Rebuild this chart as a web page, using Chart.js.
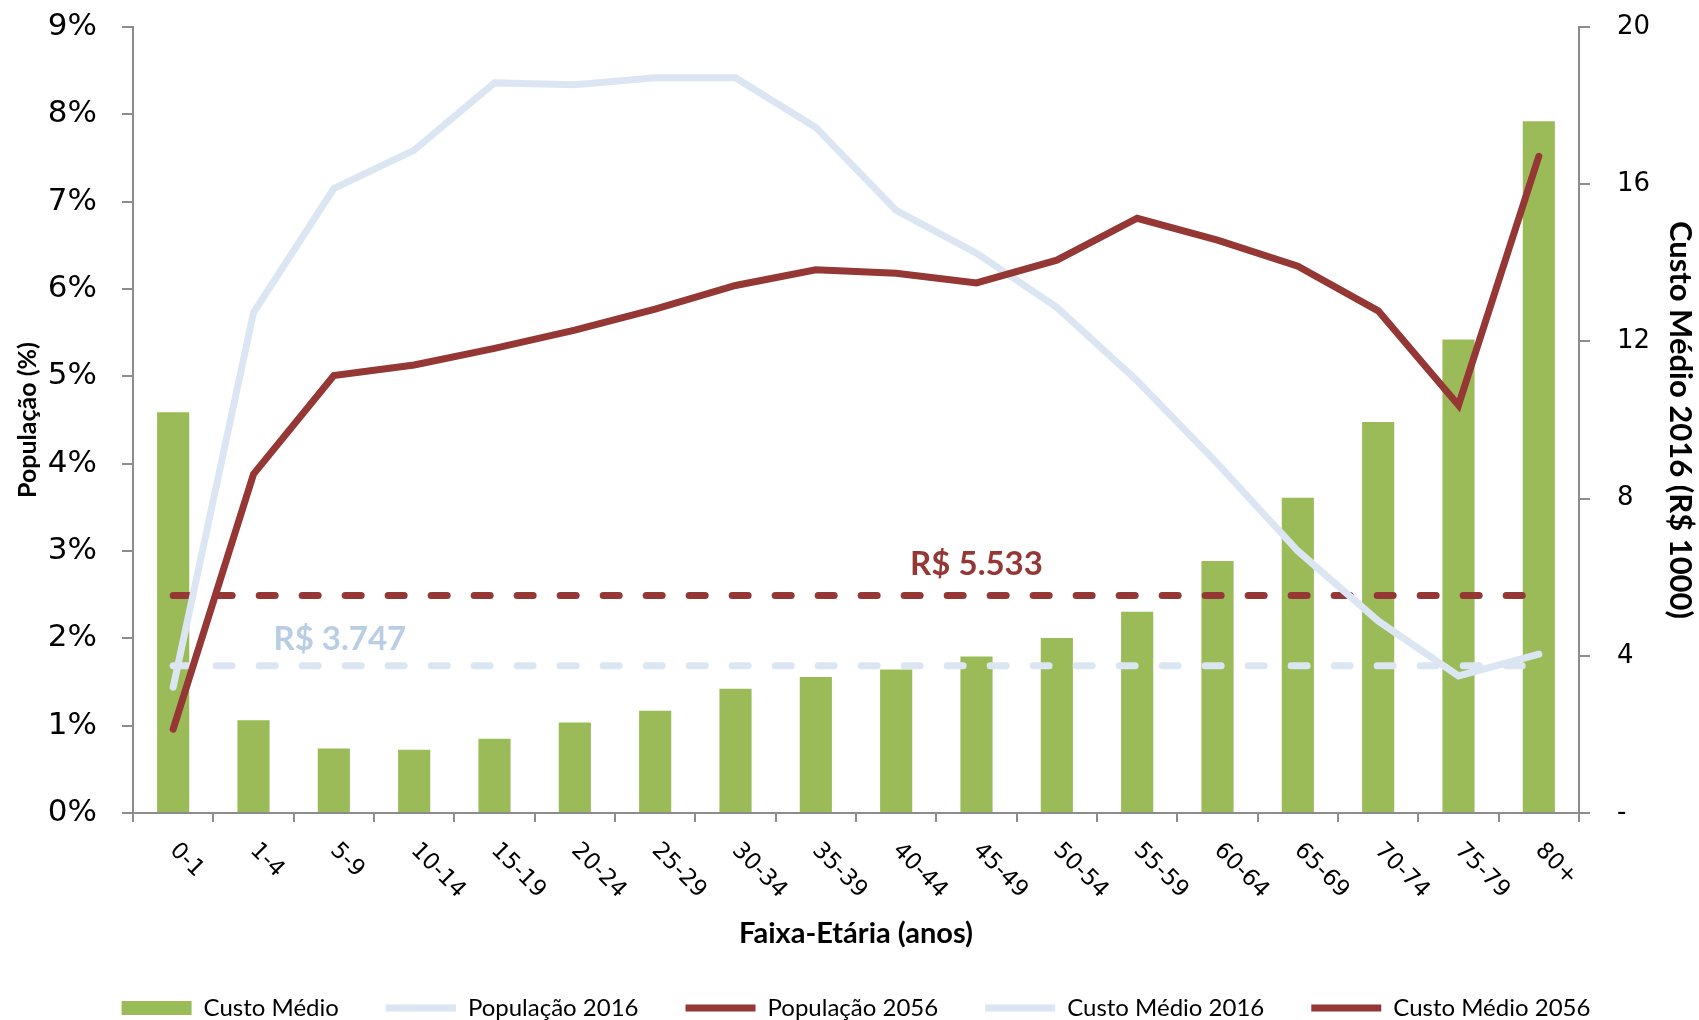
<!DOCTYPE html>
<html lang="pt-BR">
<head>
<meta charset="utf-8">
<script src="https://cdn.jsdelivr.net/npm/chart.js@4.4.1/dist/chart.umd.min.js"></script>
<style>
  body { margin: 0; background: #fff; }
  #grafico { display: block; }
</style>
</head>
<body>
<canvas id="grafico" width="1699" height="1020"></canvas>
<script>
// faixas etarias (eixo x)
var faixas = ['0-1', '1-4', '5-9', '10-14', '15-19', '20-24', '25-29', '30-34', '35-39',
              '40-44', '45-49', '50-54', '55-59', '60-64', '65-69', '70-74', '75-79', '80+'];

// custo medio por faixa, R$ 1000 (eixo da direita)
var custoMedio = [10.2, 2.36, 1.64, 1.61, 1.89, 2.30, 2.60, 3.16, 3.46,
                  3.65, 3.98, 4.45, 5.12, 6.41, 8.02, 9.95, 12.05, 17.6];

// populacao em % (eixo da esquerda)
var pop2016 = [1.44, 5.73, 7.15, 7.59, 8.36, 8.34, 8.42, 8.42, 7.85,
               6.90, 6.41, 5.79, 4.95, 4.00, 3.00, 2.20, 1.57, 1.82];
var pop2056 = [0.96, 3.88, 5.01, 5.13, 5.32, 5.53, 5.77, 6.04, 6.22,
               6.18, 6.07, 6.33, 6.81, 6.56, 6.26, 5.75, 4.67, 7.52];

// custo medio ponderado (linhas tracejadas), R$ 1000
var custo2016 = [3.747, 3.747, 3.747, 3.747, 3.747, 3.747, 3.747, 3.747, 3.747,
                 3.747, 3.747, 3.747, 3.747, 3.747, 3.747, 3.747, 3.747, 3.747];
var custo2056 = [5.533, 5.533, 5.533, 5.533, 5.533, 5.533, 5.533, 5.533, 5.533,
                 5.533, 5.533, 5.533, 5.533, 5.533, 5.533, 5.533, 5.533, 5.533];

var rotulo2016 = 'R$ 3.747';
var rotulo2056 = 'R$ 5.533';

var verde = '#9bbb59', vermelho = '#953735', azulClaro = '#dce6f2';
var cinza = '#8c8c8c';

/* rotulos do eixo x inclinados para baixo (como no Excel) */
var rotulosX = {
  id: 'rotulosX',
  afterDraw: function(chart) {
    var ctx = chart.ctx, x = chart.scales.x;
    faixas.forEach(function(f, i) {
      ctx.save();
      ctx.translate(x.getPixelForValue(i), x.top + 34);
      ctx.rotate(Math.PI / 4);
      ctx.font = '23px "DejaVu Sans"';
      ctx.fillStyle = '#000';
      ctx.textAlign = 'left';
      ctx.textBaseline = 'middle';
      ctx.fillText(f, 0, 0);
      ctx.restore();
    });
  }
};

/* valores das linhas tracejadas */
var rotulosCusto = {
  id: 'rotulosCusto',
  afterDatasetsDraw: function(chart) {
    var ctx = chart.ctx;
    var p56 = chart.getDatasetMeta(4).data[10];
    var p16 = chart.getDatasetMeta(3).data[2];
    ctx.save();
    ctx.font = 'bold 33px Lato';
    ctx.textAlign = 'center';
    ctx.textBaseline = 'middle';
    ctx.fillStyle = vermelho;
    ctx.fillText(rotulo2056, p56.x, p56.y - 31);
    ctx.fillStyle = '#b9cde5';
    ctx.fillText(rotulo2016, p16.x + 6, p16.y - 26);
    ctx.restore();
  }
};

// eixo y com largura fixa e sem a folga extra que o Chart.js poe no topo
function ajustaEixoY(s) {
  s.width = 120;
  s.paddingTop = 0;
  s.paddingBottom = 0;
}

new Chart(document.getElementById('grafico'), {
  data: {
    labels: faixas,
    datasets: [
      { type: 'bar', label: 'Custo Médio', data: custoMedio, yAxisID: 'y1',
        backgroundColor: verde, borderWidth: 0, barPercentage: 0.4, categoryPercentage: 1, order: 4 },
      { type: 'line', label: 'População 2016', data: pop2016, yAxisID: 'y',
        borderColor: azulClaro, backgroundColor: azulClaro, borderWidth: 7,
        borderCapStyle: 'round', pointRadius: 0, tension: 0, order: 1 },
      { type: 'line', label: 'População 2056', data: pop2056, yAxisID: 'y',
        borderColor: vermelho, backgroundColor: vermelho, borderWidth: 7,
        borderCapStyle: 'round', pointRadius: 0, tension: 0, order: 0 },
      { type: 'line', label: 'Custo Médio 2016', data: custo2016, yAxisID: 'y1',
        borderColor: azulClaro, backgroundColor: azulClaro, borderWidth: 7, borderDash: [16, 27],
        borderCapStyle: 'round', pointRadius: 0, order: 3 },
      { type: 'line', label: 'Custo Médio 2056', data: custo2056, yAxisID: 'y1',
        borderColor: vermelho, backgroundColor: vermelho, borderWidth: 7, borderDash: [16, 27],
        borderCapStyle: 'round', pointRadius: 0, order: 2 }
    ]
  },
  options: {
    responsive: false,
    animation: false,
    devicePixelRatio: 1,
    events: [],
    layout: { padding: { left: 13, right: 0, top: 27, bottom: -10 } },
    plugins: {
      tooltip: { enabled: false },
      legend: {
        position: 'bottom',
        labels: {
          usePointStyle: true,
          pointStyleWidth: 70,
          boxHeight: 14,
          padding: 47,
          color: '#000',
          font: { family: 'Lato', size: 24 },
          sort: function(a, b) { return a.datasetIndex - b.datasetIndex; },
          generateLabels: function(chart) {
            var itens = Chart.defaults.plugins.legend.labels.generateLabels(chart);
            itens.forEach(function(it) { it.pointStyle = it.datasetIndex === 0 ? 'rect' : 'line'; });
            return itens;
          }
        }
      }
    },
    scales: {
      x: {
        grid: { offset: true, drawOnChartArea: false, drawTicks: true, tickLength: 9, color: cinza, lineWidth: 2 },
        border: { color: cinza, width: 2 },
        ticks: { display: false },
        title: { display: true, text: 'Faixa-Etária (anos)', color: '#000',
                 font: { family: 'Lato', size: 29, weight: 'bold', lineHeight: 1.2 }, padding: { top: 0, bottom: -2 } },
        afterFit: function(s) { s.height = 136; }
      },
      y: {
        position: 'left',
        min: 0, max: 9,
        ticks: { stepSize: 1, padding: 25, color: '#000', font: { family: 'DejaVu Sans', size: 31 },
                 callback: function(v) { return v + '%'; } },
        grid: { drawOnChartArea: false, tickLength: 11, color: cinza, lineWidth: 2 },
        border: { color: cinza, width: 2 },
        title: { display: true, text: 'População (%)', color: '#000',
                 font: { family: 'Lato', size: 25, weight: 'bold', lineHeight: 1.2 }, padding: { top: 0, bottom: 0 } },
        afterFit: ajustaEixoY
      },
      y1: {
        position: 'right',
        min: 0, max: 20,
        ticks: { stepSize: 4, padding: 27, color: '#000', font: { family: 'DejaVu Sans', size: 26 },
                 callback: function(v) { return v === 0 ? '-' : v; } },
        grid: { drawOnChartArea: false, tickLength: 11, color: cinza, lineWidth: 2 },
        border: { color: cinza, width: 2 },
        title: { display: true, text: 'Custo Médio 2016 (R$ 1000)', color: '#000',
                 font: { family: 'Lato', size: 31, weight: 'bold', lineHeight: 1.2 }, padding: { top: 0, bottom: 0 } },
        afterFit: ajustaEixoY
      }
    }
  },
  plugins: [rotulosX, rotulosCusto]
});
</script>
</body>
</html>
